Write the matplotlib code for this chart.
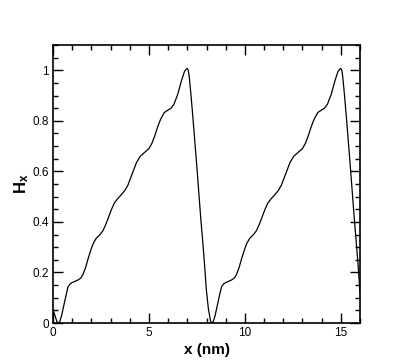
import numpy as np
import matplotlib
matplotlib.use("Agg")
import matplotlib.pyplot as plt
from matplotlib.ticker import MultipleLocator

plt.rcParams['font.family'] = ['Liberation Sans', 'DejaVu Sans']
plt.rcParams['mathtext.fontset'] = 'custom'
plt.rcParams['mathtext.rm'] = 'Liberation Sans'
plt.rcParams['mathtext.bf'] = 'Liberation Sans:bold'

# values (x in nm, Hx dimensionless)
x_nm = [0.0, 0.1, 0.2, 0.26, 0.35, 0.45, 0.55, 0.65, 0.78, 0.9, 1.0, 1.15, 1.3, 1.45,
        1.55, 1.7, 1.85, 2.0, 2.1, 2.25, 2.45, 2.6, 2.75, 2.9, 3.05, 3.2, 3.35, 3.55, 3.75, 3.9,
        4.05, 4.2, 4.35, 4.55, 4.8, 5.0, 5.15, 5.3, 5.45, 5.6, 5.8, 6.0, 6.15, 6.3, 6.5, 6.7,
        6.85, 6.95, 7.0, 7.05, 7.1, 7.2, 7.3, 7.4, 7.5, 7.6, 7.7, 7.8, 7.9, 7.95,
        8.0, 8.1, 8.2, 8.25, 8.35, 8.45, 8.55, 8.65, 8.78, 8.9, 9.0, 9.15, 9.3, 9.45,
        9.55, 9.7, 9.85, 10.0, 10.1, 10.25, 10.45, 10.6, 10.75, 10.9, 11.05, 11.2, 11.35, 11.55, 11.75, 11.9,
        12.05, 12.2, 12.35, 12.55, 12.8, 13.0, 13.15, 13.3, 13.45, 13.6, 13.8, 14.0, 14.15, 14.3, 14.5, 14.7,
        14.85, 14.95, 15.0, 15.05, 15.1, 15.2, 15.3, 15.4, 15.5, 15.6, 15.7, 15.8, 15.9, 16.0]
hx = [0.055, 0.03, 0.006, 0.0, 0.005, 0.03, 0.065, 0.10, 0.143, 0.155, 0.16, 0.165, 0.17, 0.178,
      0.19, 0.22, 0.26, 0.295, 0.315, 0.335, 0.35, 0.365, 0.39, 0.42, 0.45, 0.475, 0.49, 0.507, 0.525, 0.545,
      0.575, 0.605, 0.635, 0.66, 0.677, 0.69, 0.71, 0.74, 0.775, 0.805, 0.833, 0.843, 0.85, 0.865, 0.905, 0.96,
      0.995, 1.005, 1.007, 1.0, 0.975, 0.895, 0.805, 0.71, 0.615, 0.515, 0.415, 0.325, 0.23, 0.175,
      0.125, 0.055, 0.012, 0.0, 0.005, 0.03, 0.065, 0.10, 0.143, 0.155, 0.16, 0.165, 0.17, 0.178,
      0.19, 0.22, 0.26, 0.295, 0.315, 0.335, 0.35, 0.365, 0.39, 0.42, 0.45, 0.475, 0.49, 0.507, 0.525, 0.545,
      0.575, 0.605, 0.635, 0.66, 0.677, 0.69, 0.71, 0.74, 0.775, 0.805, 0.833, 0.843, 0.85, 0.865, 0.905, 0.96,
      0.995, 1.005, 1.007, 1.0, 0.975, 0.895, 0.805, 0.71, 0.615, 0.515, 0.415, 0.325, 0.23, 0.12]

fig = plt.figure(figsize=(4.09, 3.64), dpi=100)
ax = fig.add_axes([0.1296, 0.1126, 0.7506, 0.7637])

ax.plot(x_nm, hx, color='black', linewidth=0.9)

ax.set_xlim(0, 16)
ax.set_ylim(0, 1.1)
ax.xaxis.set_minor_locator(MultipleLocator(1))
ax.yaxis.set_minor_locator(MultipleLocator(0.05))
ax.set_xticks([0, 5, 10, 15])
ax.set_xticklabels(['0', '5', '10', '15'])
ax.set_yticks([0, 0.2, 0.4, 0.6, 0.8, 1.0])
ax.set_yticklabels(['0', '0.2', '0.4', '0.6', '0.8', '1'])

ax.tick_params(which='both', direction='in', top=True, right=True, labelsize=8.5, width=1.0)
ax.tick_params(which='major', length=7, pad=3)
ax.tick_params(which='minor', length=3.5)
for s in ax.spines.values():
    s.set_linewidth(1.2)

ax.set_xlabel('x (nm)', fontsize=11, fontweight='bold', labelpad=3)
ax.set_ylabel(r'$\mathbf{H_x}$', fontsize=12, labelpad=1)

fig.savefig('out.png', dpi=100)
